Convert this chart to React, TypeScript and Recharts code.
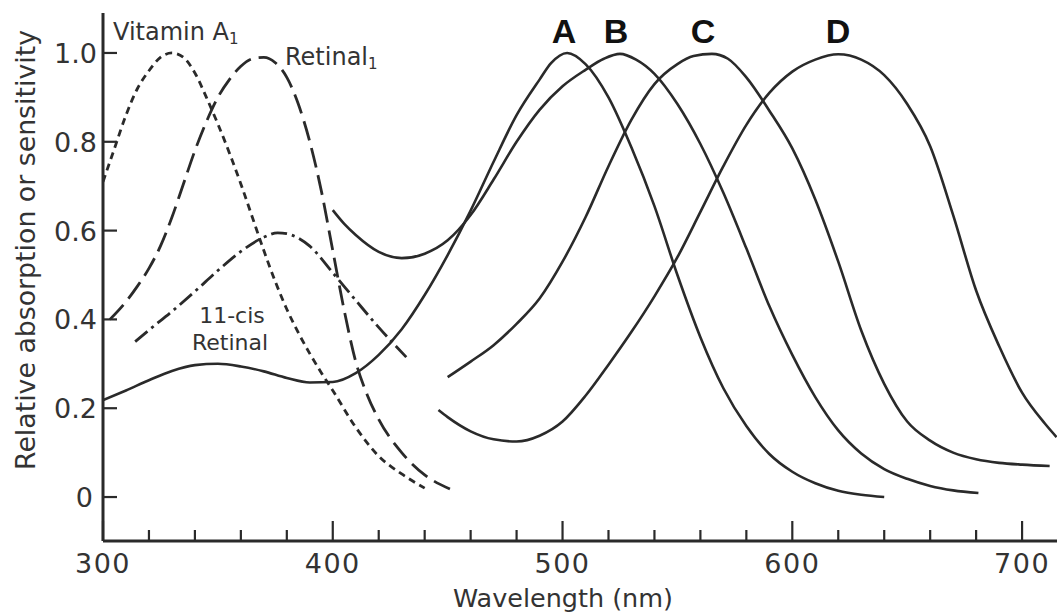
import { LineChart, Line, XAxis, YAxis } from "recharts";

// wavelengths (nm) and relative absorption
const vitaminA_nm = [300, 305, 310, 315, 320, 325, 330, 335, 340, 345, 350, 355, 360, 365, 370, 375, 380, 385, 390, 395, 400, 410, 420, 430, 440];
const vitaminA_val = [0.71, 0.785, 0.86, 0.92, 0.96, 0.99, 1.0, 0.99, 0.955, 0.9, 0.84, 0.775, 0.705, 0.63, 0.555, 0.485, 0.423, 0.37, 0.323, 0.28, 0.24, 0.157, 0.092, 0.052, 0.02];

const retinal_nm = [303, 310, 315, 320, 325, 330, 335, 340, 345, 350, 355, 360, 365, 370, 375, 380, 385, 390, 395, 400, 405, 410, 415, 420, 430, 440, 451];
const retinal_val = [0.4, 0.44, 0.475, 0.515, 0.565, 0.63, 0.705, 0.78, 0.845, 0.9, 0.94, 0.97, 0.987, 0.99, 0.978, 0.945, 0.885, 0.8, 0.69, 0.555, 0.42, 0.305, 0.23, 0.175, 0.1, 0.05, 0.018];

const cisRetinal_nm = [314, 320, 330, 340, 350, 360, 370, 376, 380, 390, 400, 410, 420, 432];
const cisRetinal_val = [0.35, 0.376, 0.418, 0.463, 0.51, 0.553, 0.585, 0.595, 0.593, 0.565, 0.505, 0.443, 0.382, 0.315];

const curveA_nm = [300, 310, 320, 330, 340, 350, 360, 370, 380, 390, 400, 410, 420, 430, 440, 450, 460, 470, 480, 490, 495, 502, 510, 520, 530, 540, 550, 560, 570, 580, 590, 600, 610, 620, 630, 640];
const curveA_val = [0.218, 0.24, 0.263, 0.284, 0.297, 0.3, 0.294, 0.283, 0.268, 0.258, 0.259, 0.279, 0.32, 0.378, 0.455, 0.545, 0.645, 0.755, 0.86, 0.94, 0.977, 1.0, 0.975, 0.9, 0.787, 0.655, 0.5, 0.36, 0.245, 0.16, 0.097, 0.057, 0.031, 0.014, 0.005, 0.0];

const curveB_nm = [400, 405, 410, 420, 430, 440, 450, 460, 470, 480, 490, 500, 510, 518, 525, 532, 540, 550, 560, 570, 580, 590, 600, 610, 620, 630, 640, 650, 660, 670, 681];
const curveB_val = [0.646, 0.615, 0.59, 0.552, 0.538, 0.548, 0.578, 0.635, 0.715, 0.8, 0.872, 0.925, 0.962, 0.987, 0.998, 0.985, 0.953, 0.885, 0.795, 0.685, 0.56, 0.43, 0.32, 0.225, 0.15, 0.098, 0.063, 0.041, 0.025, 0.015, 0.009];

const curveC_nm = [450, 460, 470, 480, 490, 500, 510, 520, 530, 540, 550, 557, 565, 572, 580, 590, 600, 610, 620, 630, 640, 650, 660, 670, 680, 690, 700, 712];
const curveC_val = [0.27, 0.305, 0.342, 0.39, 0.447, 0.53, 0.63, 0.745, 0.85, 0.93, 0.975, 0.993, 0.998, 0.987, 0.945, 0.87, 0.785, 0.67, 0.53, 0.375, 0.255, 0.17, 0.127, 0.1, 0.085, 0.077, 0.073, 0.07];

const curveD_nm = [446, 450, 460, 470, 480, 490, 500, 510, 520, 530, 540, 550, 560, 570, 580, 590, 600, 610, 620, 630, 640, 650, 660, 670, 680, 690, 700, 710, 715];
const curveD_val = [0.196, 0.18, 0.148, 0.13, 0.125, 0.138, 0.17, 0.228, 0.298, 0.372, 0.452, 0.54, 0.642, 0.745, 0.838, 0.91, 0.958, 0.985, 0.997, 0.985, 0.95, 0.885, 0.79, 0.635, 0.465, 0.34, 0.235, 0.165, 0.135];

const xTicks = [300, 320, 340, 360, 380, 400, 420, 440, 460, 480, 500, 520, 540, 560, 580, 600, 620, 640, 660, 680, 700];
const yTicks = [0, 0.2, 0.4, 0.6, 0.8, 1.0];

const INK = "#2a2a2a";
const LABEL_FONT = "'DejaVu Sans', sans-serif";

const toPoints = (nm: number[], val: number[]) => nm.map((x, i) => ({ nm: x, v: val[i] }));

const series = [
  { key: "vitA", data: toPoints(vitaminA_nm, vitaminA_val), dash: "7 5" },
  { key: "retinal", data: toPoints(retinal_nm, retinal_val), dash: "20 8" },
  { key: "cis", data: toPoints(cisRetinal_nm, cisRetinal_val), dash: "16 5 3 5" },
  { key: "A", data: toPoints(curveA_nm, curveA_val) },
  { key: "B", data: toPoints(curveB_nm, curveB_val) },
  { key: "C", data: toPoints(curveC_nm, curveC_val) },
  { key: "D", data: toPoints(curveD_nm, curveD_val) },
];

function XTick({ x, y, payload }: any) {
  const major = payload.value % 100 === 0;
  return (
    <g>
      <line x1={x} x2={x} y1={y} y2={y - (major ? 20 : 11)} stroke={INK} strokeWidth={2.2} />
      {major && (
        <text x={x} y={y + 32} textAnchor="middle" fontFamily={LABEL_FONT} fontSize={27} fill="#333" letterSpacing={1.5}>
          {payload.value}
        </text>
      )}
    </g>
  );
}

function YTick({ x, y, payload }: any) {
  const label = payload.value === 0 ? "0" : payload.value.toFixed(1);
  return (
    <g>
      <line x1={x} x2={x + 14} y1={y} y2={y} stroke={INK} strokeWidth={2.2} />
      <text x={payload.value === 0 ? x - 10 : x - 6} y={y + 10} textAnchor="end" fontFamily={LABEL_FONT} fontSize={27} fill="#333">
        {label}
      </text>
    </g>
  );
}

export default function App() {
  return (
    <div style={{ position: "absolute", left: 0, top: 0, width: 1057, height: 616, background: "#fff" }}>
      <LineChart width={1057} height={616} margin={{ top: 13, right: 0, bottom: 0, left: 0 }}>
        <XAxis
          type="number"
          dataKey="nm"
          domain={[300, 715.2]}
          ticks={xTicks}
          interval={0}
          allowDataOverflow
          height={75}
          tickSize={0}
          tickMargin={0}
          tickLine={false}
          axisLine={{ stroke: INK, strokeWidth: 3 }}
          tick={(p: any) => <XTick {...p} />}
        />
        <YAxis
          type="number"
          domain={[-0.099, 1.09]}
          ticks={yTicks}
          interval={0}
          allowDataOverflow
          width={103}
          tickSize={0}
          tickMargin={0}
          tickLine={false}
          axisLine={{ stroke: INK, strokeWidth: 3 }}
          tick={(p: any) => <YTick {...p} />}
        />
        {series.map((s) => (
          <Line
            key={s.key}
            data={s.data}
            dataKey="v"
            type="monotone"
            stroke={INK}
            strokeWidth={s.dash ? 2.8 : 2.6}
            strokeDasharray={s.dash}
            dot={false}
            activeDot={false}
            isAnimationActive={false}
          />
        ))}
      </LineChart>

      {/* annotations and axis titles */}
      <svg width={1057} height={616} style={{ position: "absolute", left: 0, top: 0, pointerEvents: "none" }}>
        <g fontFamily={LABEL_FONT} fill="#333" fontSize={24}>
          <text x={113} y={40}>
            Vitamin A<tspan fontSize={15} dy={4}>1</tspan>
          </text>
          <text x={285} y={65}>
            Retinal<tspan fontSize={15} dy={4}>1</tspan>
          </text>
          <text x={232} y={323} textAnchor="middle" fontSize={22}>11-cis</text>
          <text x={230} y={350} textAnchor="middle" fontSize={22}>Retinal</text>
          <text x={563} y={607} textAnchor="middle" textLength={220} lengthAdjust="spacingAndGlyphs">
            Wavelength (nm)
          </text>
          <text
            transform="translate(35,250) rotate(-90)"
            textAnchor="middle"
            fontSize={26}
            textLength={440}
            lengthAdjust="spacingAndGlyphs"
          >
            Relative absorption or sensitivity
          </text>
        </g>
        <g fontFamily="'Liberation Sans', Arial, sans-serif" fontWeight="bold" fontSize={34} fill="#111" textAnchor="middle">
          <text x={564} y={43}>A</text>
          <text x={616} y={43}>B</text>
          <text x={703} y={43}>C</text>
          <text x={838} y={43}>D</text>
        </g>
      </svg>
    </div>
  );
}
